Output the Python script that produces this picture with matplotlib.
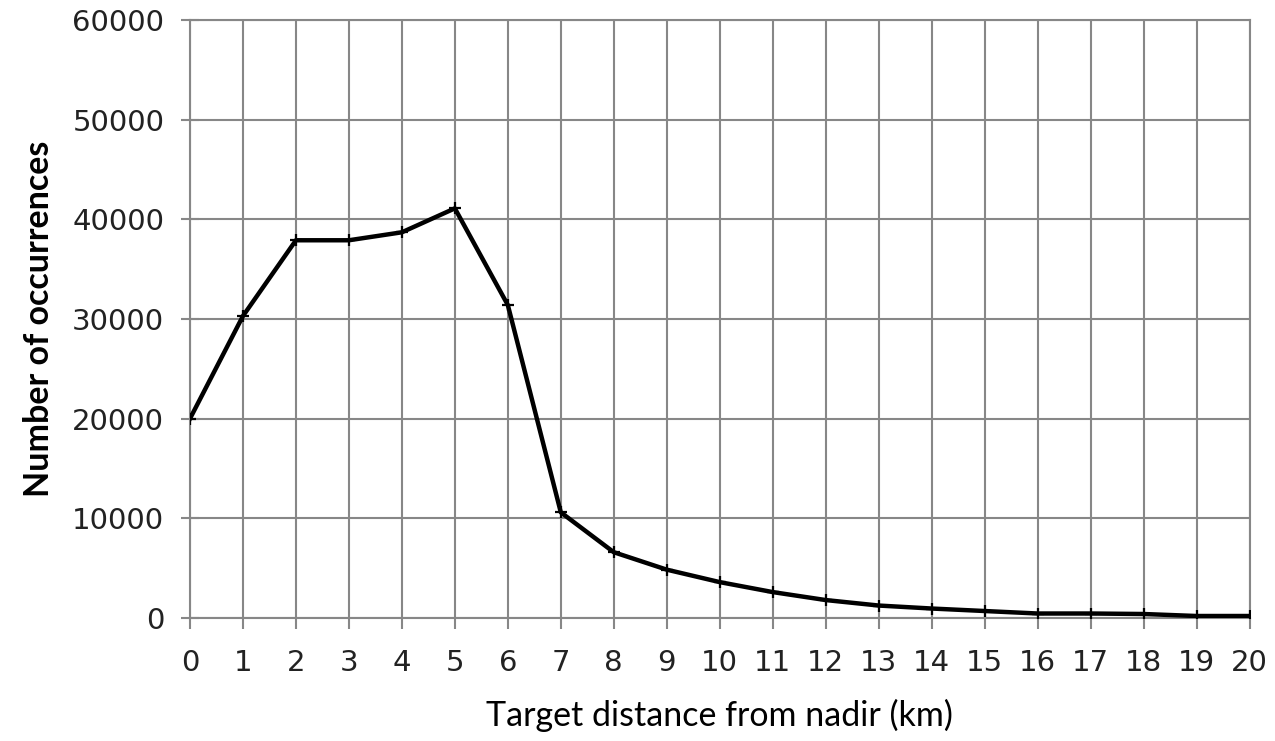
import matplotlib.pyplot as plt

distance_km = list(range(21))
occurrences = [20000, 30300, 37900, 37900, 38700, 41100, 31400, 10600, 6600, 4850,
               3600, 2600, 1800, 1250, 950, 700, 450, 450, 400, 200, 200]

GRID = "#878787"

fig = plt.figure(figsize=(12.75, 7.41), dpi=100)
ax = fig.add_axes([0.149, 0.166, 0.831, 0.807])

ax.plot(distance_km, occurrences, color="black", lw=3.2,
        marker="+", ms=9, mew=1.6, zorder=3)

ax.set_xlim(0, 20)
ax.set_ylim(0, 60000)
ax.set_xticks(distance_km)
ax.set_yticks(range(0, 60001, 10000))
ax.grid(True, color=GRID, lw=1.5)
ax.set_axisbelow(True)
for side in ax.spines.values():
    side.set_color(GRID)
    side.set_linewidth(1.5)

ax.tick_params(axis="y", direction="inout", length=13, width=1.5, color=GRID,
               labelsize=21, labelcolor="#222222", pad=12)
ax.tick_params(axis="x", direction="out", length=8, width=1.5, color=GRID,
               labelsize=21, labelcolor="#222222", pad=14)

ax.set_xlabel("Target distance from nadir (km)", fontsize=24.5, family="Lato",
              labelpad=16)
ax.set_ylabel("Number of occurrences", fontsize=24.5, family="Lato",
              fontweight="bold", labelpad=12)

fig.savefig("out.png", dpi=100)
